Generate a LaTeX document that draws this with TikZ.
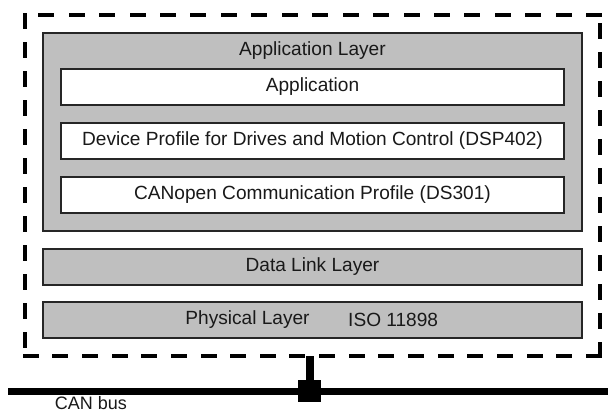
\documentclass[tikz,border=0pt]{standalone}
\usepackage{fontspec}
\setmainfont{Liberation Sans}
\begin{document}
\begin{tikzpicture}[x=1pt,y=-1pt,
  txt/.style={font=\fontsize{19.1}{22}\selectfont, text=black!90, inner sep=0pt},
  graybox/.style={draw=black!85, line width=1.3pt, fill=black!25, minimum width=539pt, minimum height=36pt, txt},
  whitebox/.style={draw=black!85, line width=1.3pt, fill=white, minimum width=503pt, minimum height=36pt, txt},
  devbox/.style={minimum width=575pt, minimum height=341pt, inner sep=0pt},
  dashside/.style={draw=black, line width=4pt, line cap=rect},
  bus/.style={line width=7pt, black},
  stub/.style={line width=8pt, black},
]
\useasboundingbox (0,0) rectangle (608,414);
\node[devbox] (dev) at (312.5,185.5) {};
\draw[dashside, dash pattern=on 12pt off 17pt] (dev.north west) -- (dev.south west);
\draw[dashside, dash pattern=on 12pt off 17.63pt] (dev.south west) -- (dev.south east);
\draw[dashside, dash pattern=on 12pt off 17pt] (dev.south east) -- (dev.north east);
\coordinate (topend) at ([xshift=15pt]dev.north west);
\draw[dashside, dash pattern=on 12pt off 18.44pt] (dev.north east) -- (topend);
\node[graybox, minimum height=198pt] (app) at (312.5,132) {};
\node[txt] (applbl) at (312.5,51) {Application Layer};
\node[whitebox] (appl) at (312.5,87) {Application};
\node[whitebox] (dsp) at (312.5,141) {Device Profile for Drives and Motion Control (DSP402)};
\node[whitebox] (ds) at (312.5,195) {CANopen Communication Profile (DS301)};
\node[graybox] (dl) at (312.5,267) {Data Link Layer};
\node[graybox] (phy) at (312.5,320) {};
\node[txt] (phylbl) at (247.5,320) {Physical Layer};
\node[txt, anchor=west] (iso) at (348,320) {ISO 11898};
\coordinate (busL) at (8,391);
\coordinate (busR) at (608,391);
\coordinate (tap) at (309.5,391);
\draw[bus] (busL) -- (busR);
\draw[stub] (tap |- dev.south) -- (tap);
\node[fill=black, minimum width=23pt, minimum height=22pt, inner sep=0pt] (tapsq) at (tap) {};
\node[font=\fontsize{18}{20}\selectfont, text=black!90, inner sep=0pt, anchor=base] (canlbl) at (91,409.5) {\strut CAN bus};
\end{tikzpicture}
\end{document}
